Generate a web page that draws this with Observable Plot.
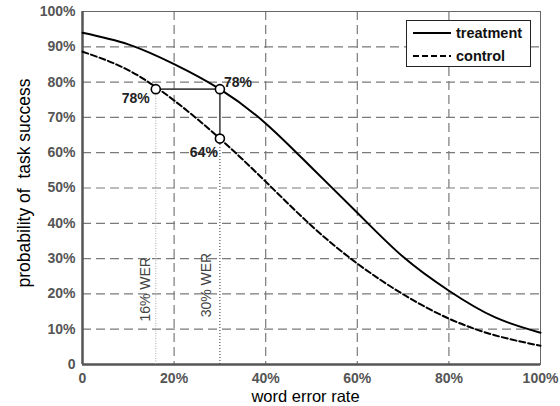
<!DOCTYPE html>
<html>
<head>
<meta charset="utf-8">
<script src="https://cdn.jsdelivr.net/npm/d3@7"></script>
<script src="https://cdn.jsdelivr.net/npm/@observablehq/plot@0.6"></script>
<style>
  html, body { margin: 0; padding: 0; background: white; }
  #wrap { position: relative; width: 560px; height: 406px; }
  #legend { position: absolute; left: 406px; top: 20px; width: 123px; height: 45px;
    border: 1.5px solid #222; background: white; font-family: "Liberation Sans", Arial, sans-serif; }
</style>
</head>
<body>
<div id="wrap"></div>
<script>
// ---- data ----
const wer = [0, 0.1, 0.2, 0.3, 0.4, 0.5, 0.6, 0.7, 0.8, 0.9, 1.0];
const treatment = [0.940, 0.907, 0.851, 0.780, 0.683, 0.558, 0.430, 0.305, 0.209, 0.134, 0.090];
const control   = [0.886, 0.834, 0.748, 0.640, 0.518, 0.393, 0.286, 0.199, 0.130, 0.083, 0.053];
const seriesNames = ["treatment", "control"];
const xTicks = [0, 0.2, 0.4, 0.6, 0.8, 1.0];
const yTicks = [0, 0.1, 0.2, 0.3, 0.4, 0.5, 0.6, 0.7, 0.8, 0.9, 1.0];
const annX = [0.16, 0.30, 0.30];
const annY = [0.78, 0.78, 0.64];
const annLabel = ["78%", "78%", "64%"];
const werMarks = [0.16, 0.30];
const werLabelY = [0.213, 0.225];
const werLabels = ["16% WER", "30% WER"];
const xLabel = "word error rate";
const yLabel = "probability of\u00a0 task success";

const treatData = wer.map((x, i) => ({x, y: treatment[i]}));
const ctrlData = wer.map((x, i) => ({x, y: control[i]}));
const annPts = annX.map((x, i) => ({x, y: annY[i], label: annLabel[i]}));
const fmt = d => d === 0 ? "0" : Math.round(d * 100) + "%";
const font = "Liberation Sans, Arial, Helvetica, sans-serif";

const chart = Plot.plot({
  width: 560, height: 406,
  marginLeft: 82, marginRight: 20, marginTop: 11, marginBottom: 42,
  style: {fontFamily: font, fontSize: "14px", background: "white", overflow: "visible"},
  x: {domain: [0, 1]},
  y: {domain: [0, 1]},
  marks: [
    Plot.gridX({ticks: xTicks.filter(d => d > 0 && d < 1), stroke: "#7a7a7a", strokeOpacity: 1, strokeWidth: 1.2, strokeDasharray: "9,5"}),
    Plot.gridY({ticks: yTicks.filter(d => d > 0 && d < 1), stroke: "#7a7a7a", strokeOpacity: 1, strokeWidth: 1.2, strokeDasharray: "9,5"}),
    Plot.frame({stroke: "#666", strokeWidth: 1}),
    Plot.ruleX([0], {stroke: "#555", strokeWidth: 2.5}),
    Plot.ruleY([0], {stroke: "#555", strokeWidth: 2.5}),
    Plot.axisX({ticks: xTicks, tickFormat: fmt, tickSize: 0, tickPadding: 9, label: null, fontWeight: "bold", fill: "#555", fontSize: 14}),
    Plot.axisY({ticks: yTicks, tickFormat: fmt, tickSize: 0, tickPadding: 7, label: null, fontWeight: "bold", fill: "#555", fontSize: 14}),
    // WER dotted guides
    Plot.ruleX([werMarks[0]], {y1: 0, y2: annY[0], stroke: "#aaa", strokeWidth: 1, strokeDasharray: "1,1.5"}),
    Plot.ruleX([werMarks[1]], {y1: 0, y2: annY[2], stroke: "#333", strokeWidth: 1, strokeDasharray: "1,2"}),
    Plot.text([0], {x: () => werMarks[0], y: () => werLabelY[0], text: () => werLabels[0], rotate: -90, dx: -10, fill: "#444", fontSize: 14}),
    Plot.text([0], {x: () => werMarks[1], y: () => werLabelY[1], text: () => werLabels[1], rotate: -90, dx: -13, fill: "#444", fontSize: 14}),
    // curves
    Plot.line(treatData, {x: "x", y: "y", curve: "natural", stroke: "black", strokeWidth: 2}),
    Plot.line(ctrlData, {x: "x", y: "y", curve: "natural", stroke: "black", strokeWidth: 2, strokeDasharray: "6,3"}),
    // annotation connectors and points
    Plot.line(annPts, {x: "x", y: "y", stroke: "#444", strokeWidth: 1.6}),
    Plot.dot(annPts, {x: "x", y: "y", r: 4.5, fill: "white", stroke: "black", strokeWidth: 1.6}),
    Plot.text([annPts[0]], {x: "x", y: "y", text: "label", textAnchor: "end", dx: -6, dy: 9, fontWeight: "bold", fill: "#222", fontSize: 14}),
    Plot.text([annPts[1]], {x: "x", y: "y", text: "label", textAnchor: "start", dx: 4, dy: -7, fontWeight: "bold", fill: "#222", fontSize: 14}),
    Plot.text([annPts[2]], {x: "x", y: "y", text: "label", textAnchor: "end", dx: -2, dy: 14, fontWeight: "bold", fill: "#222", fontSize: 14}),
    // axis titles
    Plot.text([xLabel], {frameAnchor: "bottom", lineAnchor: "middle", textAnchor: "middle", dx: -6, dy: 32, fill: "black", fontSize: 16.5}),
    Plot.text([yLabel], {frameAnchor: "left", lineAnchor: "middle", textAnchor: "middle", rotate: -90, dx: -58, dy: -5, fill: "black", fontSize: 17.5})
  ]
});
document.getElementById("wrap").appendChild(chart);

// legend overlay
const leg = document.createElement("div");
leg.id = "legend";
const ls = d3.select(leg).append("svg").attr("width", 123).attr("height", 45);
seriesNames.forEach((name, i) => {
  const cy = 12 + i * 23;
  ls.append("line").attr("x1", 6).attr("x2", 44).attr("y1", cy).attr("y2", cy)
    .attr("stroke", "black").attr("stroke-width", 2)
    .attr("stroke-dasharray", i === 0 ? null : "6,3");
  ls.append("text").attr("x", 49).attr("y", cy).attr("dy", "0.35em")
    .attr("font-family", font).attr("font-weight", "bold").attr("font-size", 14.5)
    .attr("fill", "#111").text(name);
});
document.getElementById("wrap").appendChild(leg);
</script>
</body>
</html>
